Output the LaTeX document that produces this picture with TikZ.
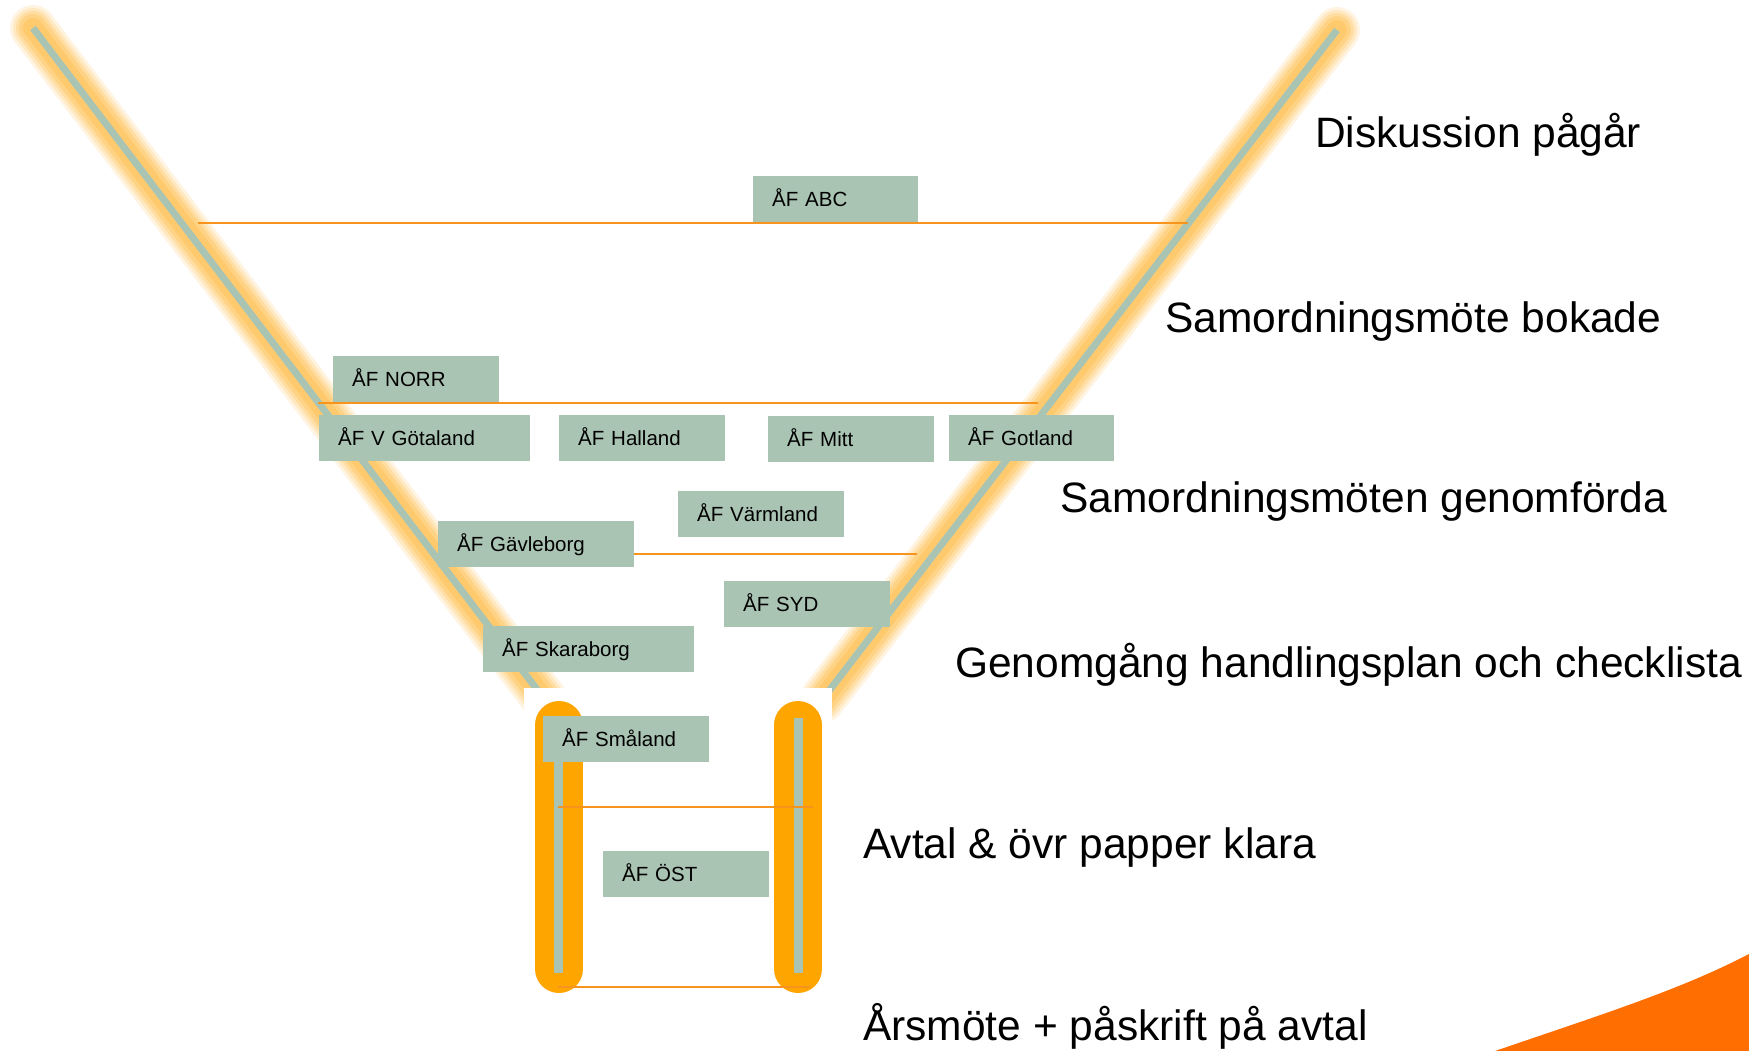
\documentclass[tikz,border=0pt]{standalone}
\usepackage{fontspec}
\setmainfont{Liberation Sans}
\definecolor{boxgreen}{RGB}{170,196,180}
\definecolor{glowc}{RGB}{255,180,50}
\definecolor{tubeorange}{RGB}{255,165,0}
\definecolor{lineorange}{RGB}{247,148,29}
\definecolor{cornerorange}{RGB}{255,110,0}
\tikzset{
  afbox/.style={fill=boxgreen, anchor=north west, inner xsep=19pt, inner ysep=0pt,
    minimum height=46pt, text width=#1, align=left,
    font=\fontsize{20.5}{24}\selectfont, text height=16pt, text depth=1pt},
  stage/.style={anchor=base west, inner sep=0pt, font=\fontsize{42.5}{50}\selectfont},
  levelline/.style={draw=lineorange, line width=2.2pt},
  funnelline/.style={draw=boxgreen, line width=7pt},
  glowline/.style={draw=glowc, line cap=round},
  tube/.style={draw=tubeorange, line width=48pt, line cap=round},
  tubecore/.style={draw=boxgreen, line width=9pt}
}
\begin{document}
\begin{tikzpicture}[x=1pt, y=-1pt]
\useasboundingbox (0,0) rectangle (1749,1051);

% funnel end points
\coordinate (ltop) at (33,28);
\coordinate (lbot) at (545,700);
\coordinate (rtop) at (1337,30);
\coordinate (rbot) at (822,700);

% glow
\foreach \w/\o in {46/0.14,40/0.18,34/0.22,28/0.26,20/0.3}{
  \draw[glowline, line width=\w pt, draw opacity=\o] (ltop) -- (lbot);
  \draw[glowline, line width=\w pt, draw opacity=\o] (rtop) -- (rbot);
}
\draw[funnelline] (ltop) -- (lbot);
\draw[funnelline] (rtop) -- (rbot);

% white mask at funnel neck
\fill[white] (524,688) rectangle (832,730);

% tubes
\coordinate (lt1) at (559,725);
\coordinate (lt2) at (559,969);
\coordinate (rt1) at (798,725);
\coordinate (rt2) at (798,969);
\coordinate (lc1) at (558.5,718);
\coordinate (lc2) at (558.5,973);
\coordinate (rc1) at (798.5,718);
\coordinate (rc2) at (798.5,973);
\draw[tube] (lt1) -- (lt2);
\draw[tube] (rt1) -- (rt2);
\draw[tubecore] (lc1) -- (lc2);
\draw[tubecore] (rc1) -- (rc2);

% level lines
\coordinate (a1) at (198,223);  \coordinate (a2) at (1188,223);
\coordinate (b1) at (318,403);  \coordinate (b2) at (1038,403);
\coordinate (c1) at (634,554);  \coordinate (c2) at (917,554);
\coordinate (d1) at (558,807);  \coordinate (d2) at (813,807);
\coordinate (e1) at (558,987);  \coordinate (e2) at (810,987);
\draw[levelline] (a1) -- (a2);
\draw[levelline] (b1) -- (b2);
\draw[levelline] (c1) -- (c2);
\draw[levelline] (d1) -- (d2);
\draw[levelline] (e1) -- (e2);

% boxes
\node[afbox=127pt] (abc) at (753,176) {ÅF ABC};
\node[afbox=128pt] (norr) at (333,356) {ÅF NORR};
\node[afbox=173pt] (vgot) at (319,415) {ÅF V Götaland};
\node[afbox=128pt] (hall) at (559,415) {ÅF Halland};
\node[afbox=128pt] (mitt) at (768,416) {ÅF Mitt};
\node[afbox=127pt] (gotl) at (949,415) {ÅF Gotland};
\node[afbox=128pt] (varm) at (678,491) {ÅF Värmland};
\node[afbox=158pt] (gavl) at (438,521) {ÅF Gävleborg};
\node[afbox=128pt] (syd) at (724,581) {ÅF SYD};
\node[afbox=173pt] (skar) at (483,626) {ÅF Skaraborg};
\node[afbox=128pt] (smal) at (543,716) {ÅF Småland};
\node[afbox=128pt] (ost) at (603,851) {ÅF ÖST};

% stage labels
\node[stage] (s1) at (1315,148) {Diskussion pågår};
\node[stage] (s2) at (1165,332) {Samordningsmöte bokade};
\node[stage] (s3) at (1060,512) {Samordningsmöten genomförda};
\node[stage] (s4) at (955,677) {Genomgång handlingsplan och checklista};
\node[stage] (s5) at (863,858) {Avtal \& övr papper klara};
\node[stage] (s6) at (863,1040) {Årsmöte + påskrift på avtal};

% corner decoration
\fill[cornerorange] (1495,1051) .. controls (1600,1015) and (1680,990) .. (1749,954) -- (1749,1051) -- cycle;
\end{tikzpicture}
\end{document}
